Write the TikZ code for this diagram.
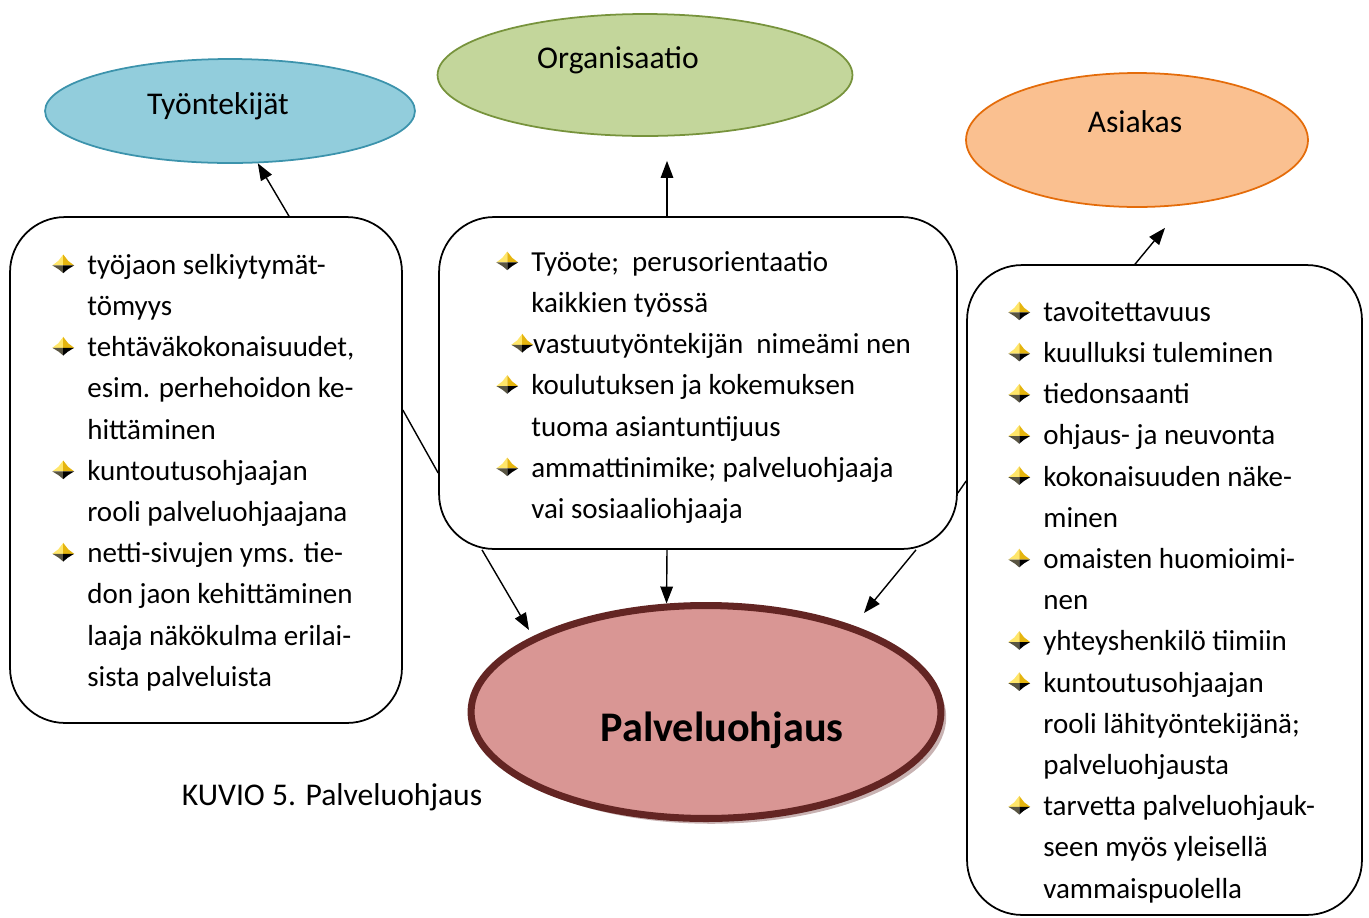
\documentclass[tikz,border=0pt]{standalone}
\usepackage{fontspec}
\setmainfont{Carlito}
\usepackage{xcolor}
\definecolor{StaffFill}{HTML}{92CDDC}
\definecolor{StaffEdge}{HTML}{3C93AC}
\definecolor{OrgFill}{HTML}{C3D69B}
\definecolor{OrgEdge}{HTML}{77933C}
\definecolor{ClientFill}{HTML}{FAC090}
\definecolor{ClientEdge}{HTML}{E46C0A}
\definecolor{CoreFill}{HTML}{D99694}
\definecolor{CoreEdge}{HTML}{632523}
\definecolor{StarLight}{HTML}{FFE66A}
\definecolor{StarDark}{HTML}{E5B50F}
\usepackage{tikz}
\usetikzlibrary{
  calc,
  positioning,
  arrows.meta,
  shapes.geometric,
  shadows
}

% small star bullet
\newcommand\bul{\tikz[baseline=-5pt, x=1pt, y=1pt]{%
  \fill[StarLight] (0,0) -- (-6.2,0) -- (-2.8,2.6) -- (0,6.2) -- cycle;
  \fill[StarDark] (0,0) -- (0,6.2) -- (2.8,2.6) -- (6.2,0) -- cycle;
  \fill[black!75!yellow] (0,0) -- (-6.2,0) -- (-2.6,-2.2) -- (0,-4.4) -- cycle;
  \fill[black] (0,0) -- (0,-4.4) -- (2.6,-2.2) -- (6.2,0) -- cycle;
  \useasboundingbox (-6.2,-4.4) rectangle (6.2,6.2);}}
\newcommand\itm{\makebox[0.7cm][l]{\bul}}
\newcommand\cnt{\hspace*{0.7cm}}

\begin{document}
\begin{tikzpicture}[
    x=0.02cm, y=-0.02cm,
    every node/.style={font=\fontsize{16.5}{23.45}\selectfont},
    topic/.style={ellipse, line width=1pt},
    topiclabel/.style={font=\fontsize{18}{21}\selectfont, inner sep=0pt},
    listbox/.style={draw, line width=1pt, rounded corners=1.1cm},
    listtext/.style={align=left, inner sep=0pt, anchor=north west},
    arrow/.style={-{Triangle[length=0.34cm, width=0.25cm]}, line width=0.8pt},
    link/.style={line width=0.8pt}
  ]
  \useasboundingbox (0,0) rectangle (1369,917);

  % the four topics
  \node[topic, fill=StaffFill, draw=StaffEdge, minimum width=7.4cm, minimum height=2.08cm] (staff) at (230,111) {};
  \node[topic, fill=OrgFill, draw=OrgEdge, minimum width=8.3cm, minimum height=2.44cm] (org) at (645,75) {};
  \node[topic, fill=ClientFill, draw=ClientEdge, minimum width=6.84cm, minimum height=2.68cm] (client) at (1137,140) {};
  \node[topic, fill=CoreFill, draw=CoreEdge, line width=4pt, minimum width=9.4cm, minimum height=4.26cm,
    drop shadow={shadow xshift=3pt, shadow yshift=-3pt, fill=CoreEdge!50, opacity=0.7}] (core) at (706,712) {};

  \node[topiclabel] (stafflbl) at (218,106) {Työntekijät};
  \node[topiclabel] (orglbl) at (618,60) {Organisaatio};
  \node[topiclabel] (clientlbl) at (1135,122) {Asiakas};
  \node[inner sep=0pt, font=\fontsize{24}{28}\selectfont\bfseries] (corelbl) at (722,730) {Palveluohjaus};

  % the three lists
  \node[listbox, minimum width=7.84cm, minimum height=10.12cm] (lbox) at (206,470) {};
  \node[listbox, minimum width=10.36cm, minimum height=6.64cm] (mbox) at (698,383) {};
  \node[listbox, minimum width=7.9cm, minimum height=13cm] (rbox) at (1164.5,590) {};

  \node[listtext] (ltext) at (52,245) {\strut\itm työjaon selkiytymät-\\
    \cnt tömyys\\
    \itm tehtäväkokonaisuudet,\\
    \cnt esim. perhehoidon ke-\\
    \cnt hittäminen\\
    \itm kuntoutusohjaajan\\
    \cnt rooli palveluohjaajana\\
    \itm netti-sivujen yms. tie-\\
    \cnt don jaon kehittäminen\\
    \cnt laaja näkökulma erilai-\\
    \cnt sista palveluista};
  \node[listtext] (mtext) at (496,242) {\strut\itm Työote;~ perusorientaatio\\
    \cnt kaikkien työssä\\
    \hspace*{0.3cm}\bul vastuutyöntekijän~ nimeämi nen\\
    \itm koulutuksen ja kokemuksen\\
    \cnt tuoma asiantuntijuus\\
    \itm ammattinimike; palveluohjaaja\\
    \cnt vai sosiaaliohjaaja};
  \node[listtext] (rtext) at (1008,292) {\strut\itm tavoitettavuus\\
    \itm kuulluksi tuleminen\\
    \itm tiedonsaanti\\
    \itm ohjaus- ja neuvonta\\
    \itm kokonaisuuden näke-\\
    \cnt minen\\
    \itm omaisten huomioimi-\\
    \cnt nen\\
    \itm yhteyshenkilö tiimiin\\
    \itm kuntoutusohjaajan\\
    \cnt rooli lähityöntekijänä;\\
    \cnt palveluohjausta\\
    \itm tarvetta palveluohjauk-\\
    \cnt seen myös yleisellä\\
    \cnt vammaispuolella};

  \node[font=\fontsize{18}{21}\selectfont, inner sep=0pt] (caption) at (332,797) {KUVIO 5. Palveluohjaus};

  % connectors
  \coordinate (orgtip) at ($(org.south)+(22,24)$);
  \coordinate (clienttip) at ($(client.south)+(28,20)$);
  \coordinate (corenw) at ($(core.center)+(-177,-82)$);
  \coordinate (corene) at ($(core.center)+(158,-99)$);

  \draw[arrow] ($(lbox.north)+(83,0)$) -- (staff.-62);
  \draw[arrow] ($(mbox.north)+(-31,0)$) -- (orgtip);
  \draw[arrow] ($(rbox.north)+(-29.5,0)$) -- (clienttip);
  \draw[arrow] ($(mbox.south)+(-31,0)$) -- (core.110);
  \draw[arrow] ($(mbox.south)+(-216,0)$) -- (corenw);
  \draw[arrow] ($(mbox.south)+(218,0)$) -- (corene);
  \draw[link] ($(lbox.east)+(0,-60)$) -- ($(mbox.west)+(0,90)$);
  \draw[link] ($(mbox.east)+(0,110)$) -- ($(rbox.west)+(0,-109)$);
\end{tikzpicture}
\end{document}
